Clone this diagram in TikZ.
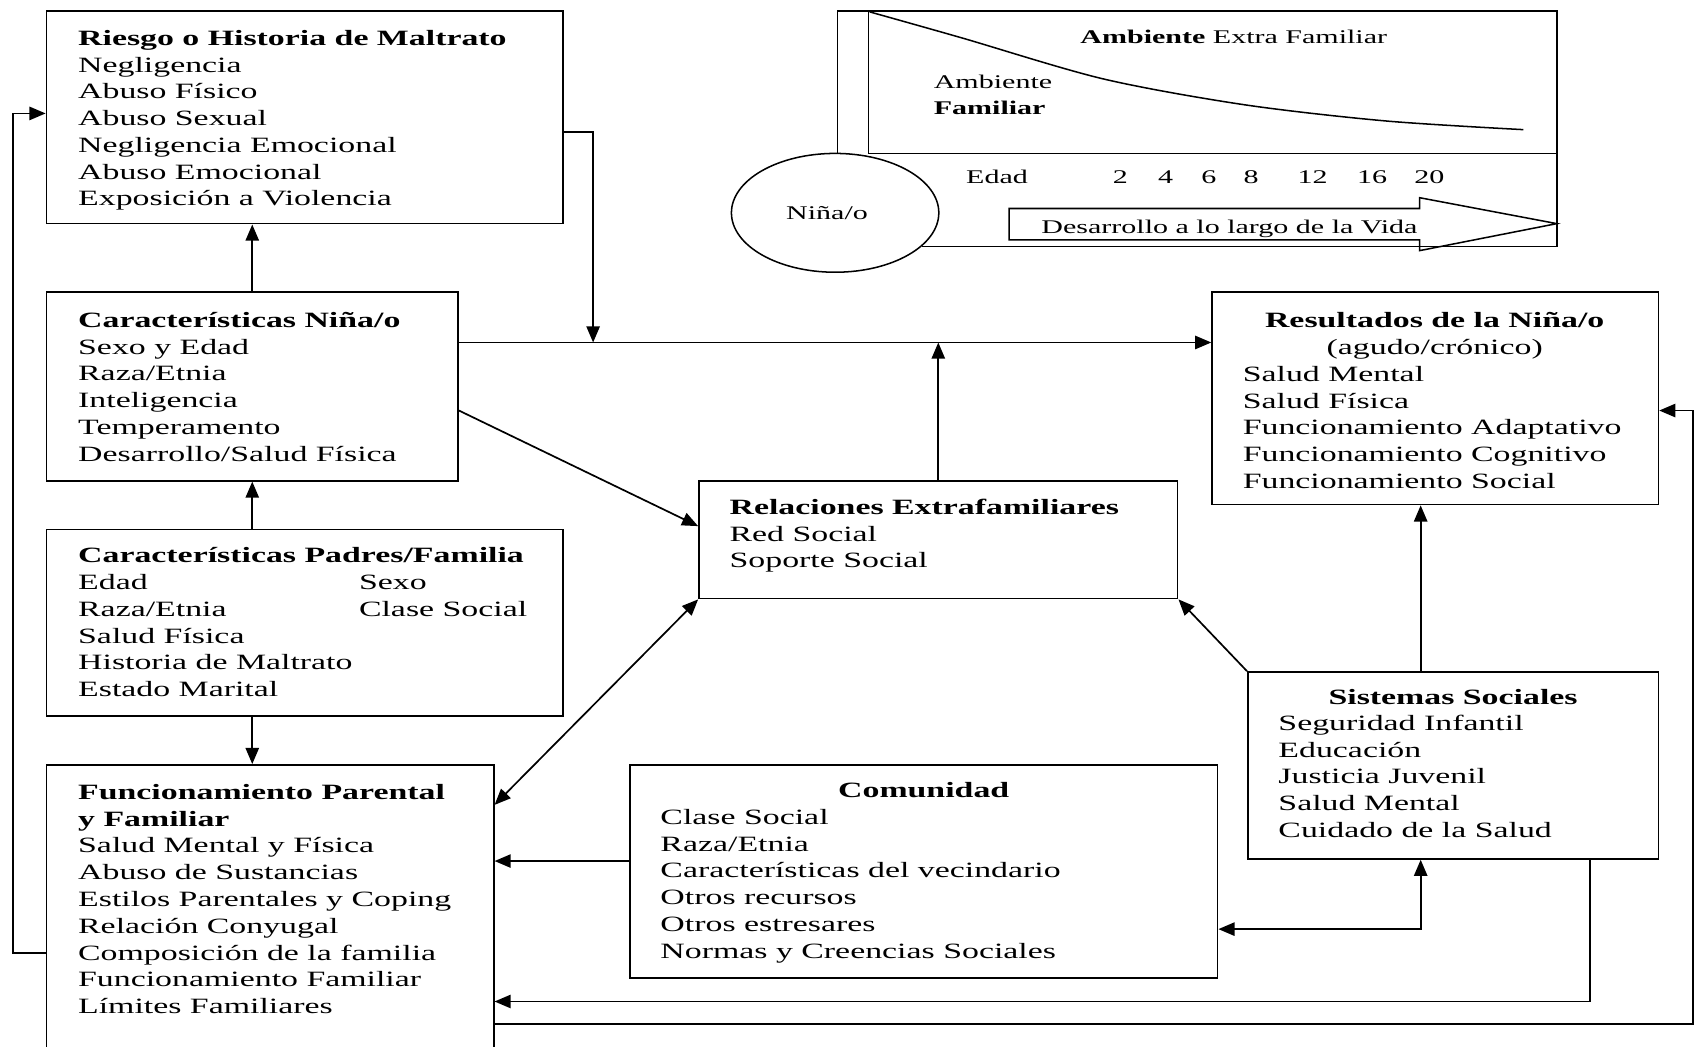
\documentclass[tikz,border=0pt]{standalone}
\usepackage{fontspec}
\setmainfont{Liberation Serif}[FakeStretch=1.55]
\usetikzlibrary{arrows.meta,fit,calc,shapes.geometric}
\begin{document}
\begin{tikzpicture}[x=0.02cm,y=-0.02cm,
  box/.style={draw, line width=0.9pt, inner sep=0pt},
  txt/.style={inner sep=0pt, anchor=base west, font=\fontsize{11.5}{14.1}\selectfont},
  ctxt/.style={inner sep=0pt, anchor=base, font=\fontsize{11.5}{14.1}\selectfont},
  ttl/.style={inner sep=0pt, anchor=base, font=\fontsize{11.5}{14.1}\selectfont\bfseries},
  stxt/.style={inner sep=0pt, font=\fontsize{10.2}{13.6}\selectfont},
  conn/.style={line width=0.9pt},
  arr/.style={conn, -{Triangle[length=8.5pt,width=7pt]}},
  darr/.style={conn, {Triangle[length=8.5pt,width=7pt]}-{Triangle[length=8.5pt,width=7pt]}},
  thin/.style={line width=0.8pt},
]
\useasboundingbox (0,0) rectangle (1568,969);

% ---------------- boxes ----------------
\node[box, fit={(43,10) (521,207)}] (A) {};
\node[box, fit={(43,270) (424,445)}] (B) {};
\node[box, fit={(43,490) (521,663)}] (C) {};
\node[box, fit={(43,708) (457,1010)}] (F) {};
\node[box, fit={(647,445) (1090,554)}] (D) {};
\node[box, fit={(1122,270) (1535,467)}] (E) {};
\node[box, fit={(1155,622) (1535,795)}] (G) {};
\node[box, fit={(583,708) (1127,905)}] (H) {};

% ---------------- texts ----------------
\node[txt] (At) at (72,42) {\begin{tabular}[t]{@{}l@{}}\textbf{Riesgo o Historia de Maltrato}\\Negligencia\\Abuso Físico\\Abuso Sexual\\Negligencia Emocional\\Abuso Emocional\\Exposición a Violencia\end{tabular}};

\node[txt] (Bt) at (72,303) {\begin{tabular}[t]{@{}l@{}}\textbf{Características Niña/o}\\Sexo y Edad\\Raza/Etnia\\Inteligencia\\Temperamento\\Desarrollo/Salud Física\end{tabular}};

\node[txt] (Ct) at (72,521) {\begin{tabular}[t]{@{}p{5.2cm}@{}l@{}}\multicolumn{2}{@{}l@{}}{\textbf{Características Padres/Familia}}\\Edad & Sexo\\Raza/Etnia & Clase Social\\\multicolumn{2}{@{}l@{}}{Salud Física}\\\multicolumn{2}{@{}l@{}}{Historia de Maltrato}\\\multicolumn{2}{@{}l@{}}{Estado Marital}\end{tabular}};

\node[txt] (Ft) at (72,740) {\begin{tabular}[t]{@{}l@{}}\textbf{Funcionamiento Parental}\\\textbf{y Familiar}\\Salud Mental y Física\\Abuso de Sustancias\\Estilos Parentales y Coping\\Relación Conyugal\\Composición de la familia\\Funcionamiento Familiar\\Límites Familiares\end{tabular}};

\node[txt] (Dt) at (675,476) {\begin{tabular}[t]{@{}l@{}}\textbf{Relaciones Extrafamiliares}\\Red Social\\Soporte Social\end{tabular}};

\node[ttl] (Et1) at (1328,303) {Resultados de la Niña/o};
\node[ctxt] (Et2) at (1328,328) {(agudo/crónico)};
\node[txt] (Et) at (1150,353) {\begin{tabular}[t]{@{}l@{}}Salud Mental\\Salud Física\\Funcionamiento Adaptativo\\Funcionamiento Cognitivo\\Funcionamiento Social\end{tabular}};

\node[ttl] (Gt1) at (1345,652) {Sistemas Sociales};
\node[txt] (Gt) at (1183,676) {\begin{tabular}[t]{@{}l@{}}Seguridad Infantil\\Educación\\Justicia Juvenil\\Salud Mental\\Cuidado de la Salud\end{tabular}};

\node[ttl] (Ht1) at (855,738) {Comunidad};
\node[txt] (Ht) at (611,763) {\begin{tabular}[t]{@{}l@{}}Clase Social\\Raza/Etnia\\Características del vecindario\\Otros recursos\\Otros estresares\\Normas y Creencias Sociales\end{tabular}};

% ---------------- connector coordinates ----------------
\coordinate (hA) at (549,122);
\coordinate (hline) at (0,317);
\coordinate (bd1) at (0,380);
\coordinate (bd2) at (0,487);
\coordinate (fd) at (0,745);
\coordinate (gx) at (1315,0);
\coordinate (hg) at (0,860);
\coordinate (hf) at (0,797);
\coordinate (gf) at (1472,927);
\coordinate (rr) at (1567,948);
\coordinate (ry) at (0,380);
\coordinate (ll) at (12,882);
\coordinate (la) at (0,105);

% ---------------- connectors ----------------
\draw[arr] (B.north) -- (B.north |- A.south);
\draw[arr] (C.north -| B.north) -- (B.south);
\draw[arr] (C.south -| B.north) -- (F.north -| B.north);
\draw[arr] (A.east |- hA) -| (hA |- hline);
\draw[arr] (B.east |- hline) -- (E.west |- hline);
\draw[arr] (D.north) -- (D.north |- hline);
\draw[arr] (B.east |- bd1) -- (D.west |- bd2);
\draw[darr] (F.east |- fd) -- (D.south west);
\draw[arr] (G.north west) -- (D.south east);
\draw[arr] (G.north -| gx) -- (E.south -| gx);
\draw[darr] (H.east |- hg) -| (G.south -| gx);
\draw[arr] (H.west |- hf) -- (F.east |- hf);
\draw[arr] (G.south -| gf) |- (F.east |- gf);
\draw[arr] (F.east |- rr) -- (rr) |- (E.east |- ry);
\draw[arr] (F.west |- ll) -- (ll) |- (A.west |- la);

% ---------------- development panel ----------------
\draw[thin] (775,142) -- (775,10) -- (1441,10) -- (1441,228) -- (853,228);
\draw[thin] (804,10) -- (804,142) -- (1441,142);
\draw[thin] plot[smooth] coordinates {(805,11) (890,35) (1021,73) (1152,97) (1283,112) (1410,120)};
\draw[thin] (934,193) -- (1314,193) -- (1314,183) -- (1441,207) -- (1314,232) -- (1314,222) -- (934,222) -- cycle;
\node[ellipse, draw, thin, fill=white, inner sep=0pt, minimum width=3.84cm, minimum height=2.2cm, font=\fontsize{10.2}{13.6}\selectfont] (N) at (773,197) {\hspace*{-0.3cm}Niña/o};

\node[stxt, anchor=base] (ext) at (1142,40) {\textbf{Ambiente} Extra Familiar};
\node[stxt, anchor=base west] (fam) at (864,82) {\begin{tabular}[t]{@{}l@{}}Ambiente\\\textbf{Familiar}\end{tabular}};
\node[stxt, anchor=base west] (edad) at (894,170) {Edad};
\node[stxt, anchor=base] (n2) at (1037,170) {2};
\node[stxt, anchor=base] (n4) at (1079,170) {4};
\node[stxt, anchor=base] (n6) at (1119,170) {6};
\node[stxt, anchor=base] (n8) at (1158,170) {8};
\node[stxt, anchor=base] (n12) at (1215,170) {12};
\node[stxt, anchor=base] (n16) at (1270,170) {16};
\node[stxt, anchor=base] (n20) at (1323,170) {20};
\node[stxt, anchor=base] (des) at (1138,216) {Desarrollo a lo largo de la Vida};
\end{tikzpicture}
\end{document}
